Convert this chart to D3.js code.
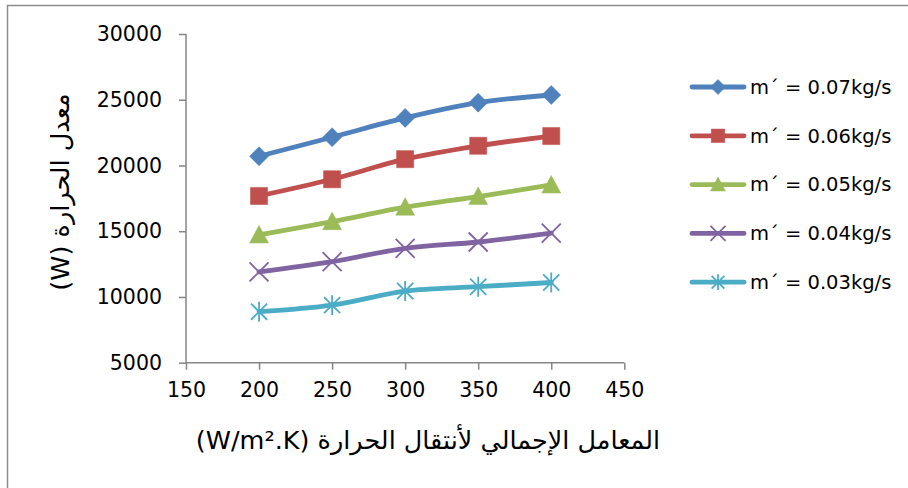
<!DOCTYPE html>
<html><head><meta charset="utf-8">
<script src="https://cdn.jsdelivr.net/npm/d3@7"></script>
<style>
html,body{margin:0;padding:0;background:#fff;}
svg{display:block;}
text{font-family:"DejaVu Sans",sans-serif;fill:#000;}
</style></head>
<body>
<svg id="chart" width="908" height="488"></svg>
<script>
const xValues = [200, 250, 300, 350, 400];
const seriesNames = ["m´ = 0.07kg/s","m´ = 0.06kg/s","m´ = 0.05kg/s","m´ = 0.04kg/s","m´ = 0.03kg/s"];
const s007 = [20700, 22150, 23620, 24780, 25360];
const s006 = [17680, 18950, 20480, 21500, 22240];
const s005 = [14720, 15730, 16830, 17640, 18520];
const s004 = [11900, 12680, 13700, 14180, 14850];
const s003 = [8880, 9380, 10450, 10780, 11100];
const seriesColors = ["#4F81BD","#C0504D","#9BBB59","#8064A2","#4BACC6"];
const markerTypes = ["diamond","square","triangle","x","star"];
const xTicks = [150,200,250,300,350,400,450];
const yTicks = [5000,10000,15000,20000,25000,30000];
const xTitle = "المعامل الإجمالي لأنتقال الحرارة (W/m².K)";
const yTitle = "معدل الحرارة (W)";

const series = [s007,s006,s005,s004,s003].map((v,i)=>({name:seriesNames[i],values:v,color:seriesColors[i],marker:markerTypes[i]}));

const svg = d3.select("#chart");
// outer border
svg.append("rect").attr("x",7.5).attr("y",5.5).attr("width",1000).attr("height",1000)
  .attr("fill","none").attr("stroke","#8c8c8c").attr("stroke-width",1.5);

const x = d3.scaleLinear().domain([150,450]).range([186,624.3]);
const y = d3.scaleLinear().domain([5000,30000]).range([362.7,34]);
const axisColor = "#868686";

const gx = svg.append("g").attr("transform",`translate(0,${y(5000)})`)
  .call(d3.axisBottom(x).tickValues(xTicks).tickSize(7).tickPadding(20).tickFormat(d3.format("d")));
const gy = svg.append("g").attr("transform",`translate(${x(150)},0)`)
  .call(d3.axisLeft(y).tickValues(yTicks).tickSize(7).tickPadding(17).tickFormat(d3.format("d")));
[gx,gy].forEach(g=>{
  g.select(".domain").attr("stroke",axisColor).attr("stroke-width",1.5);
  g.selectAll(".tick line").attr("stroke",axisColor).attr("stroke-width",1.5);
  g.selectAll(".tick text").attr("font-size","20.5px").attr("font-family","DejaVu Sans").attr("fill","#000");
});
gx.selectAll(".tick text").attr("dy","0.36em");
gx.select(".domain").attr("d",`M${x(150)},0H${x(450)}`);
gy.select(".domain").attr("d",`M0,${y(5000)}V${y(30000)}`);

function markerPath(type, s){
  switch(type){
    case "diamond": return `M0,${-s}L${s},0L0,${s}L${-s},0Z`;
    case "square": return `M${-s*0.9},${-s*0.9}H${s*0.9}V${s*0.9}H${-s*0.9}Z`;
    case "triangle": return `M0,${-s}L${s},${s*0.85}L${-s},${s*0.85}Z`;
    case "x": return `M${-s},${-s}L${s},${s}M${-s},${s}L${s},${-s}`;
    case "star": return `M${-s*0.85},${-s*0.85}L${s*0.85},${s*0.85}M${-s*0.85},${s*0.85}L${s*0.85},${-s*0.85}M0,${-s*1.05}V${s*1.05}`;
  }
}
function drawMarker(g, type, color, s){
  const stroked = (type==="x"||type==="star");
  g.append("path").attr("d",markerPath(type,s))
    .attr("fill",stroked?"none":color)
    .attr("stroke",color).attr("stroke-width",stroked?1.8:0.5);
}

const line = d3.line().x((d,i)=>x(xValues[i])).y(d=>y(d)).curve(d3.curveCatmullRom.alpha(0.5));
series.forEach(s=>{
  svg.append("path").attr("d",line(s.values)).attr("fill","none")
    .attr("stroke",s.color).attr("stroke-width",4.8).attr("stroke-linecap","round");
  s.values.forEach((v,i)=>{
    const g = svg.append("g").attr("transform",`translate(${x(xValues[i])},${y(v)})`);
    drawMarker(g,s.marker,s.color,9.5);
  });
});

// legend
const legendY0 = 87, legendStep = 48.8;
series.forEach((s,i)=>{
  const ly = legendY0 + i*legendStep;
  svg.append("line").attr("x1",692).attr("x2",744).attr("y1",ly).attr("y2",ly)
    .attr("stroke",s.color).attr("stroke-width",4.8).attr("stroke-linecap","round");
  const g = svg.append("g").attr("transform",`translate(718,${ly})`);
  drawMarker(g,s.marker,s.color,7.5);
  svg.append("text").attr("x",750).attr("y",ly).attr("dy","0.35em")
    .attr("font-size","19.5px").text(s.name);
});

// axis titles
svg.append("text").attr("x",428).attr("y",440).attr("dy","0.35em").attr("text-anchor","middle")
  .attr("font-size","25.5px").attr("direction","rtl").text(xTitle);
svg.append("text").attr("transform","translate(60,192) rotate(-90)").attr("dy","0.35em")
  .attr("text-anchor","middle").attr("font-size","25.5px").attr("direction","rtl").text(yTitle);
</script>
</body></html>
